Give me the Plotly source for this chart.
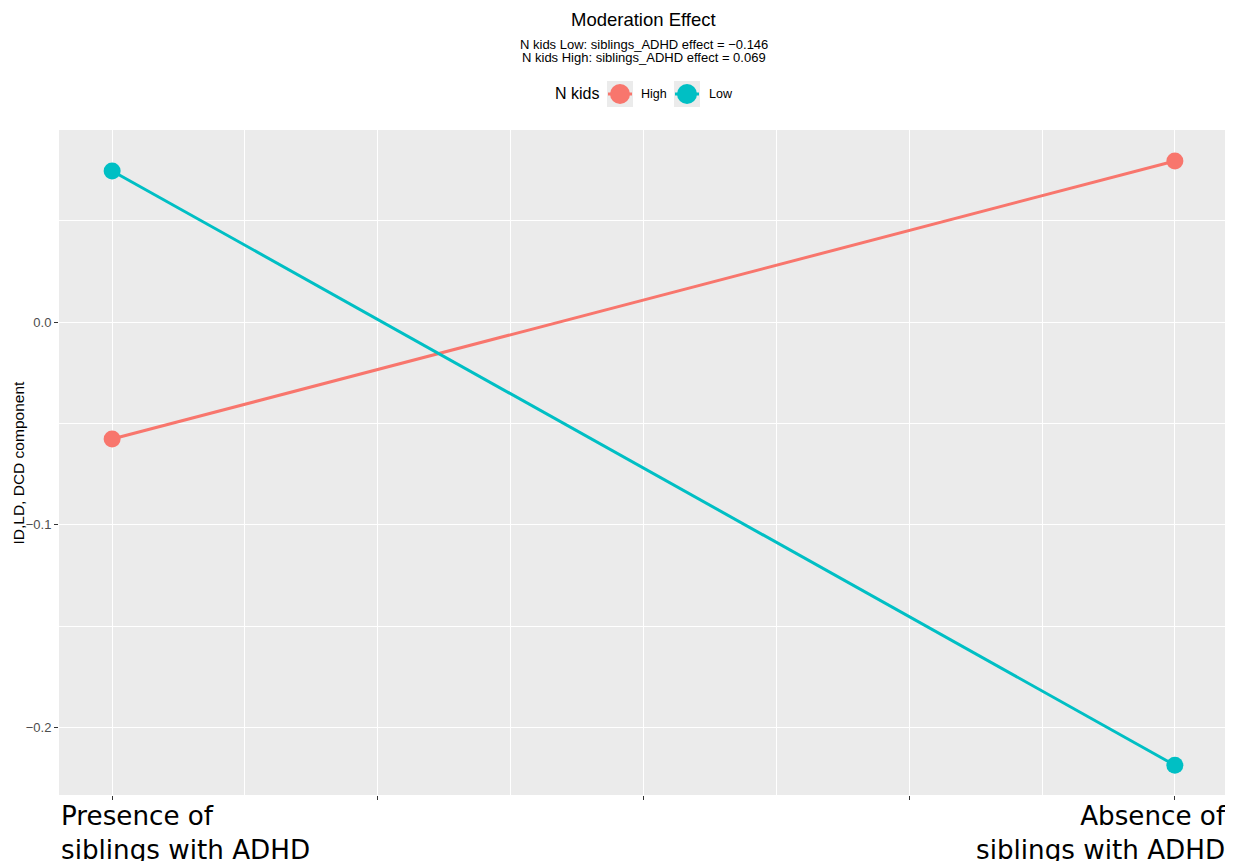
import plotly.graph_objects as go

# ---- data ----
x_positions = [0, 1]
x_labels = ["Presence of<br>siblings with ADHD", "Absence of<br>siblings with ADHD"]
groups = ["High", "Low"]
high_values = [-0.0577, 0.0794]
low_values = [0.0745, -0.2186]
colors = {"High": "#F8766D", "Low": "#00BFC4"}
y_ticks = [-0.2, -0.1, 0.0]
x_ticks = [0, 0.25, 0.5, 0.75, 1]

OFF = 8  # page body margin
W, H = 1233 - OFF, 861 - OFF
# panel edges in screen pixels
L, R, T, B = 59, 1228, 130, 795

def px_x(p):
    return (p - L) / (R - L)

def px_y(p):
    return (B - p) / (B - T)

fig = go.Figure()
for g, vals in (("High", high_values), ("Low", low_values)):
    fig.add_trace(go.Scatter(
        x=x_positions, y=vals, mode="lines+markers", name=g,
        line=dict(color=colors[g], width=3),
        marker=dict(color=colors[g], size=17),
        showlegend=False,
    ))

sans = "Liberation Sans, Arial, sans-serif"

annotations = [
    dict(text="Moderation Effect", x=0.5, xref="paper", y=px_y(20), yref="paper",
         showarrow=False, font=dict(family=sans, size=18.5, color="black"), yanchor="middle"),
    dict(text="N kids Low: siblings_ADHD effect = \u22120.146", x=0.5, xref="paper", y=px_y(44), yref="paper",
         showarrow=False, font=dict(family=sans, size=13, color="black"), yanchor="middle"),
    dict(text="N kids High: siblings_ADHD effect = 0.069", x=0.5, xref="paper", y=px_y(58), yref="paper",
         showarrow=False, font=dict(family=sans, size=13, color="black"), yanchor="middle"),
    dict(text="ID,LD, DCD component", x=0, xref="paper", xshift=-41, y=0.5, yref="paper",
         textangle=-90, showarrow=False, xanchor="center", yanchor="middle",
         font=dict(family=sans, size=15.5, color="black")),
    dict(text=x_labels[0], x=0, xref="paper", y=0, yref="paper", yshift=-4,
         xanchor="left", yanchor="top", align="left", showarrow=False,
         font=dict(family="DejaVu Sans, sans-serif", size=26.2, color="black")),
    dict(text=x_labels[1], x=1, xref="paper", y=0, yref="paper", yshift=-4,
         xanchor="right", yanchor="top", align="right", showarrow=False,
         font=dict(family="DejaVu Sans, sans-serif", size=26.2, color="black")),
    dict(text="N kids", x=px_x(601), xref="paper", y=px_y(94), yref="paper",
         xanchor="right", yanchor="middle", showarrow=False,
         font=dict(family=sans, size=16, color="black")),
]

shapes = []
legend_centers = {"High": 620, "Low": 687}
legend_text_x = {"High": 639, "Low": 707}
for g in groups:
    cx = legend_centers[g]
    shapes.append(dict(type="rect", xref="paper", yref="paper",
                       x0=px_x(cx - 13), x1=px_x(cx + 13), y0=px_y(107), y1=px_y(81),
                       fillcolor="#EBEBEB", line=dict(width=0), layer="below"))
    shapes.append(dict(type="line", xref="paper", yref="paper",
                       x0=px_x(cx - 12), x1=px_x(cx + 12), y0=px_y(94), y1=px_y(94),
                       line=dict(color=colors[g], width=3)))
    shapes.append(dict(type="circle", xref="paper", yref="paper",
                       xsizemode="pixel", ysizemode="pixel",
                       xanchor=px_x(cx), yanchor=px_y(94),
                       x0=-10, x1=10, y0=-10, y1=10,
                       fillcolor=colors[g], line=dict(width=0)))
    annotations.append(dict(text=g, x=px_x(legend_text_x[g]), xref="paper", y=px_y(94), yref="paper",
                            xanchor="left", yanchor="middle", showarrow=False,
                            font=dict(family=sans, size=12.5, color="black")))

fig.update_layout(
    width=W, height=H,
    margin=dict(l=L - OFF, r=W + OFF - R, t=T - OFF, b=H + OFF - B, pad=0),
    paper_bgcolor="white", plot_bgcolor="#EBEBEB",
    showlegend=False,
    annotations=annotations, shapes=shapes,
    font=dict(family=sans),
)
fig.update_xaxes(
    range=[-0.05, 1.05], tickvals=x_ticks, ticktext=[""] * len(x_ticks),
    ticks="outside", ticklen=4, tickcolor="#333333", tickwidth=1,
    showgrid=True, gridcolor="white", gridwidth=1.1, zeroline=False, showline=False,
    minor=dict(tickvals=[0.125, 0.375, 0.625, 0.875], showgrid=True, gridcolor="white", gridwidth=0.55, ticks=""),
)
fig.update_yaxes(
    range=[-0.2333, 0.0947], tickvals=y_ticks, tickformat=".1f",
    ticks="outside", ticklen=4, tickcolor="#333333", tickwidth=1,
    tickfont=dict(family=sans, size=13, color="#4D4D4D"),
    showgrid=True, gridcolor="white", gridwidth=1.1, zeroline=False, showline=False,
    minor=dict(tickvals=[-0.15, -0.05, 0.05], showgrid=True, gridcolor="white", gridwidth=0.55, ticks=""),
)

fig.write_html("out.html")
